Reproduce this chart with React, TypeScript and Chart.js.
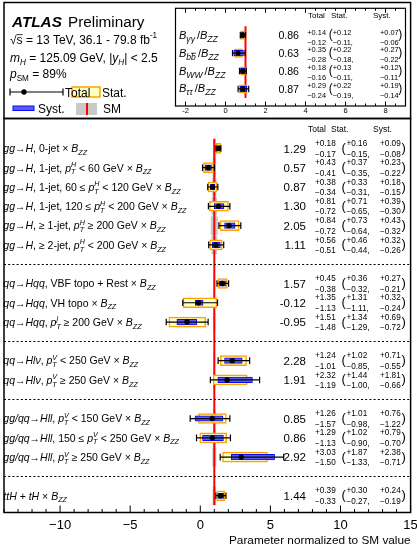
import React, { useEffect, useRef } from "react";
import { Chart, registerables } from "chart.js";
Chart.register(...registerables);

const FONT = '"Liberation Sans", Arimo, Arial, Helvetica, sans-serif';

// ---------------- main panel data ----------------
const groupSizes = [6, 3, 2, 3, 1];
const rowLabels = [
  "*gg*→*H*, 0-jet × *B_{ZZ}*",
  "*gg*→*H*, 1-jet, *p^{H}_{T}* < 60 GeV × *B_{ZZ}*",
  "*gg*→*H*, 1-jet, 60 ≤ *p^{H}_{T}* < 120 GeV × *B_{ZZ}*",
  "*gg*→*H*, 1-jet, 120 ≤ *p^{H}_{T}* < 200 GeV × *B_{ZZ}*",
  "*gg*→*H*, ≥ 1-jet, *p^{H}_{T}* ≥ 200 GeV × *B_{ZZ}*",
  "*gg*→*H*, ≥ 2-jet, *p^{H}_{T}* < 200 GeV × *B_{ZZ}*",
  "*qq*→*Hqq*, VBF topo + Rest × *B_{ZZ}*",
  "*qq*→*Hqq*, VH topo × *B_{ZZ}*",
  "*qq*→*Hqq*, *p^{j}_{T}* ≥ 200 GeV × *B_{ZZ}*",
  "*qq*→*Hlν*, *p^{V}_{T}* < 250 GeV × *B_{ZZ}*",
  "*qq*→*Hlν*, *p^{V}_{T}* ≥ 250 GeV × *B_{ZZ}*",
  "*gg/qq*→*Hll*, *p^{V}_{T}* < 150 GeV × *B_{ZZ}*",
  "*gg/qq*→*Hll*, 150 ≤ *p^{V}_{T}* < 250 GeV × *B_{ZZ}*",
  "*gg/qq*→*Hll*, *p^{V}_{T}* ≥ 250 GeV × *B_{ZZ}*",
  "*ttH* + *tH* × *B_{ZZ}*",
];
const central = [1.29, 0.57, 0.87, 1.3, 2.05, 1.11, 1.57, -0.12, -0.95, 2.28, 1.91, 0.85, 0.86, 2.92, 1.44];
const totUp = [0.18, 0.43, 0.38, 0.81, 0.84, 0.56, 0.45, 1.35, 1.51, 1.24, 2.32, 1.26, 1.29, 3.03, 0.39];
const totDn = [0.17, 0.41, 0.34, 0.72, 0.72, 0.51, 0.38, 1.13, 1.48, 1.01, 1.19, 1.57, 1.13, 1.5, 0.33];
const statUp = [0.16, 0.37, 0.33, 0.71, 0.73, 0.46, 0.36, 1.31, 1.34, 1.02, 1.44, 1.01, 1.02, 1.87, 0.3];
const statDn = [0.15, 0.35, 0.31, 0.65, 0.64, 0.44, 0.32, 1.11, 1.29, 0.85, 1.0, 0.98, 0.9, 1.33, 0.27];
const systUp = [0.09, 0.23, 0.18, 0.39, 0.43, 0.32, 0.27, 0.32, 0.69, 0.71, 1.81, 0.76, 0.79, 2.38, 0.24];
const systDn = [0.08, 0.22, 0.15, 0.3, 0.32, 0.26, 0.21, 0.24, 0.72, 0.55, 0.66, 1.22, 0.7, 0.71, 0.19];
const smUnc = [0.07, 0.1, 0.13, 0.17, 0.23, 0.18, 0.03, 0.03, 0.05, 0.04, 0.04, 0.06, 0.08, 0.12, 0.1];

// ---------------- inset (ratios) data ----------------
const ratioLabels = ["*B_{γγ}*/*B_{ZZ}*", "*B_{b={b}}*/*B_{ZZ}*", "*B_{WW}*/*B_{ZZ}*", "*B_{ττ}*/*B_{ZZ}*"];
const ratioCentral = [0.86, 0.63, 0.86, 0.87];
const ratioTotUp = [0.14, 0.35, 0.18, 0.29];
const ratioTotDn = [0.12, 0.28, 0.16, 0.24];
const ratioStatUp = [0.12, 0.22, 0.13, 0.22];
const ratioStatDn = [0.11, 0.18, 0.11, 0.19];
const ratioSystUp = [0.07, 0.27, 0.12, 0.19];
const ratioSystDn = [0.06, 0.22, 0.11, 0.14];

const mainTicks = [-10, -5, 0, 5, 10, 15];
const insetTicks = [-2, 0, 2, 4, 6, 8];
const columnHeaders = ["Total", "Stat.", "Syst."];
const xTitle = "Parameter normalized to SM value";
const SM_VALUE = 1;

const C_STAT_FILL = "#ffffc4";
const C_STAT_LINE = "#ffa200";
const C_SYST_FILL = "#5a5af2";
const C_SYST_LINE = "#0a0aff";
const C_SM_BAND = "#c9c9c9";
const C_SM_LINE = "#ff0000";

// ---------------- rich text helpers ----------------
type Run = { kind: "run"; text: string; it: boolean; lvl: number; over: boolean };
type Stk = { kind: "stack"; sup: Item[]; sub: Item[] };
type Item = Run | Stk;
type Style = { sub: number; gap: number };

function findClose(s: string, open: number): number {
  let depth = 0;
  for (let k = open; k < s.length; k++) {
    if (s[k] === "{") depth++;
    else if (s[k] === "}") {
      depth--;
      if (depth === 0) return k;
    }
  }
  return s.length;
}

function parseRich(s: string, it = false, lvl = 0, over = false): Item[] {
  const items: Item[] = [];
  let buf = "";
  const flush = () => {
    if (buf) items.push({ kind: "run", text: buf, it, lvl, over });
    buf = "";
  };
  let i = 0;
  while (i < s.length) {
    const c = s[i];
    if (c === "*") {
      flush();
      it = !it;
      i++;
      continue;
    }
    if ((c === "_" || c === "^") && s[i + 1] === "{") {
      flush();
      const close = findClose(s, i + 1);
      const first = parseRich(s.slice(i + 2, close), it, lvl + 1, over);
      let next = close + 1;
      let second: Item[] = [];
      const other = c === "_" ? "^" : "_";
      if (s[next] === other && s[next + 1] === "{") {
        const close2 = findClose(s, next + 1);
        second = parseRich(s.slice(next + 2, close2), it, lvl + 1, over);
        next = close2 + 1;
      }
      items.push({ kind: "stack", sup: c === "^" ? first : second, sub: c === "_" ? first : second });
      i = next;
      continue;
    }
    if (c === "=" && s[i + 1] === "{") {
      flush();
      const close = findClose(s, i + 1);
      items.push(...parseRich(s.slice(i + 2, close), it, lvl, true));
      i = close + 1;
      continue;
    }
    buf += c;
    i++;
  }
  flush();
  return items;
}

const DEFAULT_STYLE: Style = { sub: 0.68, gap: 0 };
function sizeAt(base: number, lvl: number, st: Style) {
  return base * Math.pow(st.sub, lvl);
}
function fontFor(size: number, it: boolean) {
  return `${it ? "italic " : ""}${size}px ${FONT}`;
}
function measureItems(ctx: CanvasRenderingContext2D, items: Item[], base: number, st: Style): number {
  let w = 0;
  for (const item of items) {
    if (item.kind === "run") {
      ctx.font = fontFor(sizeAt(base, item.lvl, st), item.it);
      w += ctx.measureText(item.text).width;
    } else {
      w += Math.max(measureItems(ctx, item.sup, base, st), measureItems(ctx, item.sub, base, st)) + st.gap;
    }
  }
  return w;
}
function drawItems(ctx: CanvasRenderingContext2D, items: Item[], x: number, y: number, base: number, lvl: number, st: Style): number {
  for (const item of items) {
    if (item.kind === "run") {
      const sz = sizeAt(base, item.lvl, st);
      ctx.font = fontFor(sz, item.it);
      ctx.fillText(item.text, x, y);
      const w = ctx.measureText(item.text).width;
      if (item.over) {
        ctx.save();
        ctx.lineWidth = 0.8;
        ctx.strokeStyle = "#000";
        ctx.beginPath();
        ctx.moveTo(x, y - sz * 0.74);
        ctx.lineTo(x + w, y - sz * 0.74);
        ctx.stroke();
        ctx.restore();
      }
      x += w;
    } else {
      const sz = sizeAt(base, lvl, st);
      const eSup = drawItems(ctx, item.sup, x, y - sz * 0.42, base, lvl + 1, st);
      const eSub = drawItems(ctx, item.sub, x, y + sz * 0.27, base, lvl + 1, st);
      x = Math.max(eSup, eSub) + st.gap;
    }
  }
  return x;
}
function drawRich(ctx: CanvasRenderingContext2D, markup: string, x: number, y: number, base: number, align = "left", st: Style = DEFAULT_STYLE) {
  const items = parseRich(markup);
  const w = measureItems(ctx, items, base, st);
  const x0 = align === "left" ? x : align === "right" ? x - w : x - w / 2;
  ctx.textAlign = "left";
  ctx.textBaseline = "alphabetic";
  ctx.fillStyle = "#000";
  drawItems(ctx, items, x0, y, base, 0, st);
}

function fmtVal(v: number) {
  return v.toFixed(2);
}
function fmtMinusTick(v: number) {
  return v < 0 ? "\u2212" + Math.abs(v) : String(v);
}

type Cols = {
  valRight: number; valSize: number; tot: number; stat: number; syst: number;
  parL: number; parR: number; parSize: number; errSize: number; upDy: number; dnDy: number;
};

function drawNumbers(ctx: CanvasRenderingContext2D, y: number, c: number, tu: number, td: number, su: number, sd: number, yu: number, yd: number, L: Cols) {
  ctx.fillStyle = "#000";
  ctx.textBaseline = "alphabetic";
  ctx.font = `${L.valSize}px ${FONT}`;
  ctx.textAlign = "right";
  ctx.fillText(fmtVal(c), L.valRight, y + 0.36 * L.valSize);
  ctx.textAlign = "left";
  ctx.font = `${L.errSize}px ${FONT}`;
  const yTop = y + L.upDy + 0.36 * L.errSize;
  const yBot = y + L.dnDy + 0.36 * L.errSize;
  ctx.fillText("+" + tu.toFixed(2), L.tot, yTop);
  ctx.fillText("\u2212" + td.toFixed(2), L.tot, yBot);
  ctx.fillText("+" + su.toFixed(2), L.stat, yTop);
  ctx.fillText("\u2212" + sd.toFixed(2) + ",", L.stat, yBot);
  ctx.fillText("+" + yu.toFixed(2), L.syst, yTop);
  ctx.fillText("\u2212" + yd.toFixed(2), L.syst, yBot);
  ctx.font = `${L.parSize}px ${FONT}`;
  ctx.fillText("(", L.parL, y + 0.27 * L.parSize);
  ctx.fillText(")", L.parR, y + 0.27 * L.parSize);
}

function drawTotals(chart: any, cs: number[], up: number[], dn: number[], slots: number[], cap: number) {
  const ctx: CanvasRenderingContext2D = chart.ctx;
  const xs = chart.scales.x;
  const ys = chart.scales.y;
  ctx.save();
  ctx.strokeStyle = "#000";
  ctx.lineWidth = 1.2;
  cs.forEach((c, i) => {
    const y = ys.getPixelForValue(slots[i]);
    const x1 = xs.getPixelForValue(c - dn[i]);
    const x2 = xs.getPixelForValue(c + up[i]);
    ctx.beginPath();
    ctx.moveTo(x1, y);
    ctx.lineTo(x2, y);
    ctx.moveTo(x1, y - cap);
    ctx.lineTo(x1, y + cap);
    ctx.moveTo(x2, y - cap);
    ctx.lineTo(x2, y + cap);
    ctx.stroke();
  });
  ctx.restore();
}

function buildSlots() {
  const slots: number[] = [];
  const seps: number[] = [];
  let s = 1;
  groupSizes.forEach((n, g) => {
    for (let k = 0; k < n; k++) slots.push(s++);
    if (g < groupSizes.length - 1) seps.push(s++);
  });
  return { slots, seps };
}

const MAIN_COLS: Cols = {
  valRight: 306, valSize: 11.5, tot: 315, stat: 346.5, syst: 380,
  parL: 341.5, parR: 401.5, parSize: 13, errSize: 8.2, upDy: -5.3, dnDy: 5.2,
};
const INSET_COLS: Cols = {
  valRight: 299, valSize: 10.6, tot: 307.3, stat: 332.7, syst: 380,
  parL: 328.7, parR: 398.3, parSize: 12, errSize: 7.4, upDy: -3.3, dnDy: 6.7,
};
const INSET_LABEL_STYLE: Style = { sub: 0.78, gap: 2 };

function mainConfig(): any {
  const { slots, seps } = buildSlots();
  const lastSlot = slots[slots.length - 1];
  const plugin = {
    id: "mainDecor",
    afterDatasetDraw(chart: any, args: any) {
      if (args.index !== 1) return;
      drawTotals(chart, central, totUp, totDn, slots, 3.3);
    },
    afterDraw(chart: any) {
      const ctx: CanvasRenderingContext2D = chart.ctx;
      const { left, right, top, bottom } = chart.chartArea;
      const xs = chart.scales.x;
      const ys = chart.scales.y;
      ctx.save();
      // separators
      ctx.strokeStyle = "#000";
      ctx.lineWidth = 1;
      ctx.setLineDash([2, 2.2]);
      seps.forEach((s) => {
        const y = Math.round(ys.getPixelForValue(s)) + 0.5;
        ctx.beginPath();
        ctx.moveTo(left, y);
        ctx.lineTo(right, y);
        ctx.stroke();
      });
      ctx.setLineDash([]);
      // frames
      ctx.lineWidth = 1.5;
      ctx.strokeRect(left, top, right - left, bottom - top);
      ctx.strokeRect(left, 2.5, right - left, top - 2.5);
      // ticks
      ctx.lineWidth = 1;
      for (let v = Math.ceil(xs.min); v <= xs.max; v++) {
        const x = xs.getPixelForValue(v);
        const len = v % 5 === 0 ? 7 : 3.5;
        ctx.beginPath();
        ctx.moveTo(x, bottom);
        ctx.lineTo(x, bottom - len);
        ctx.stroke();
      }
      // tick labels
      ctx.fillStyle = "#000";
      ctx.font = `13px ${FONT}`;
      ctx.textAlign = "center";
      ctx.textBaseline = "alphabetic";
      mainTicks.forEach((v) => ctx.fillText(fmtMinusTick(v), xs.getPixelForValue(v), bottom + 16.2));
      ctx.font = `11.8px ${FONT}`;
      ctx.textAlign = "right";
      ctx.fillText(xTitle, right, 544);
      // column headers
      ctx.textAlign = "left";
      ctx.font = `8.5px ${FONT}`;
      const hy = ys.getPixelForValue(0) + 3;
      ctx.fillText(columnHeaders[0], 308, hy);
      ctx.fillText(columnHeaders[1], 331, hy);
      ctx.fillText(columnHeaders[2], 373, hy);
      // rows
      rowLabels.forEach((lab, i) => {
        const y = ys.getPixelForValue(slots[i]);
        drawRich(ctx, lab, 3.3, y + 3.8, 10.5, "left");
        drawNumbers(ctx, y, central[i], totUp[i], totDn[i], statUp[i], statDn[i], systUp[i], systDn[i], MAIN_COLS);
      });
      // header text
      ctx.fillStyle = "#000";
      ctx.textAlign = "left";
      ctx.font = `italic bold 15.3px ${FONT}`;
      ctx.fillText("ATLAS", 12, 27);
      ctx.font = `15.3px ${FONT}`;
      ctx.fillText("Preliminary", 68, 27);
      drawRich(ctx, "√={s} = 13 TeV, 36.1 - 79.8 fb^{-1}", 10, 43.5, 12);
      drawRich(ctx, "*m_{H}* = 125.09 GeV, |*y_{H}*| < 2.5", 10, 62, 12);
      drawRich(ctx, "*p*_{SM} = 89%", 10, 78, 12);
      // legend
      ctx.strokeStyle = "#000";
      ctx.lineWidth = 1.2;
      ctx.beginPath();
      ctx.moveTo(10, 92);
      ctx.lineTo(63, 92);
      ctx.moveTo(10, 88.5);
      ctx.lineTo(10, 95.5);
      ctx.moveTo(63, 88.5);
      ctx.lineTo(63, 95.5);
      ctx.stroke();
      ctx.beginPath();
      ctx.arc(24, 92, 2.7, 0, Math.PI * 2);
      ctx.fill();
      ctx.fillStyle = C_STAT_FILL;
      ctx.fillRect(72, 87, 28, 10);
      ctx.strokeStyle = C_STAT_LINE;
      ctx.lineWidth = 1.5;
      ctx.strokeRect(72, 87, 28, 10);
      ctx.fillStyle = C_SYST_FILL;
      ctx.fillRect(13, 106, 21, 4.5);
      ctx.strokeStyle = C_SYST_LINE;
      ctx.lineWidth = 1;
      ctx.strokeRect(13, 106, 21, 4.5);
      ctx.fillStyle = C_SM_BAND;
      ctx.fillRect(76, 103, 21, 12);
      ctx.strokeStyle = C_SM_LINE;
      ctx.lineWidth = 2;
      ctx.beginPath();
      ctx.moveTo(87, 103);
      ctx.lineTo(87, 115);
      ctx.stroke();
      ctx.fillStyle = "#000";
      ctx.font = `12px ${FONT}`;
      ctx.fillText("Total", 65, 96.5);
      ctx.fillText("Stat.", 102, 96.5);
      ctx.fillText("Syst.", 38, 113.3);
      ctx.fillText("SM", 103, 113.3);
      ctx.restore();
    },
  };
  return {
    type: "bar",
    data: {
      datasets: [
        {
          type: "scatter",
          label: "Total",
          data: central.map((c, i) => ({ x: c, y: slots[i] })),
          pointRadius: 2.7,
          pointBackgroundColor: "#000",
          pointBorderWidth: 0,
          order: 0,
        },
        {
          type: "bar",
          label: "Syst.",
          data: central.map((c, i) => ({ x: [c - systDn[i], c + systUp[i]], y: slots[i] })),
          backgroundColor: C_SYST_FILL,
          borderColor: C_SYST_LINE,
          borderWidth: 1,
          borderSkipped: false,
          barThickness: 5.5,
          grouped: false,
          order: 1,
        },
        {
          type: "bar",
          label: "Stat.",
          data: central.map((c, i) => ({ x: [c - statDn[i], c + statUp[i]], y: slots[i] })),
          backgroundColor: C_STAT_FILL,
          borderColor: C_STAT_LINE,
          borderWidth: 1.5,
          borderSkipped: false,
          barThickness: 10,
          grouped: false,
          order: 2,
        },
        {
          type: "line",
          label: "SM",
          data: [
            { x: SM_VALUE, y: 0.5 },
            { x: SM_VALUE, y: lastSlot + 0.5 },
          ],
          borderColor: C_SM_LINE,
          borderWidth: 2,
          pointRadius: 0,
          fill: false,
          order: 3,
        },
        {
          type: "bar",
          label: "SM unc.",
          data: smUnc.map((u, i) => ({ x: [SM_VALUE - u, SM_VALUE + u], y: slots[i] })),
          backgroundColor: C_SM_BAND,
          borderWidth: 0,
          barThickness: 18,
          grouped: false,
          order: 4,
        },
      ],
    },
    options: {
      indexAxis: "y",
      responsive: false,
      animation: false,
      events: [],
      layout: { padding: { left: 2.5, right: 6.4, top: 118.5, bottom: 33.5 } },
      scales: {
        x: { type: "linear", min: -14, max: 15, display: false, offset: false },
        y: { type: "linear", min: -0.55, max: 19.87, reverse: true, display: false, offset: false },
      },
      plugins: { legend: { display: false }, tooltip: { enabled: false } },
    },
    plugins: [plugin],
  };
}

function insetConfig(): any {
  const slots = ratioCentral.map((_, i) => i + 1);
  const plugin = {
    id: "insetDecor",
    afterDatasetDraw(chart: any, args: any) {
      if (args.index !== 1) return;
      drawTotals(chart, ratioCentral, ratioTotUp, ratioTotDn, slots, 3.2);
    },
    afterDraw(chart: any) {
      const ctx: CanvasRenderingContext2D = chart.ctx;
      const { left, right, top, bottom } = chart.chartArea;
      const xs = chart.scales.x;
      const ys = chart.scales.y;
      ctx.save();
      ctx.strokeStyle = "#000";
      ctx.lineWidth = 1.2;
      ctx.strokeRect(left, top, right - left, bottom - top);
      ctx.lineWidth = 1;
      for (let k = Math.ceil(xs.min * 2); k <= xs.max * 2; k++) {
        const v = k / 2;
        const x = xs.getPixelForValue(v);
        const len = k % 4 === 0 ? 4.5 : 2.5;
        ctx.beginPath();
        ctx.moveTo(x, bottom);
        ctx.lineTo(x, bottom - len);
        ctx.moveTo(x, top);
        ctx.lineTo(x, top + len);
        ctx.stroke();
      }
      ctx.fillStyle = "#000";
      ctx.font = `7.5px ${FONT}`;
      ctx.textAlign = "center";
      ctx.textBaseline = "alphabetic";
      insetTicks.forEach((v) => ctx.fillText(fmtMinusTick(v).replace("\u2212", "-"), xs.getPixelForValue(v), bottom + 7));
      // headers (canvas offset 170)
      const off = 170;
      ctx.textAlign = "left";
      ctx.font = `8px ${FONT}`;
      ctx.fillText(columnHeaders[0], 308 - off, 18.3);
      ctx.fillText(columnHeaders[1], 331 - off, 18.3);
      ctx.fillText(columnHeaders[2], 373 - off, 18.3);
      const L: Cols = {
        ...INSET_COLS,
        valRight: INSET_COLS.valRight - off,
        tot: INSET_COLS.tot - off,
        stat: INSET_COLS.stat - off,
        syst: INSET_COLS.syst - off,
        parL: INSET_COLS.parL - off,
        parR: INSET_COLS.parR - off,
      };
      ratioLabels.forEach((lab, i) => {
        const y = ys.getPixelForValue(slots[i]);
        drawRich(ctx, lab, 179 - off, y + 3.5, 11, "left", INSET_LABEL_STYLE);
        drawNumbers(ctx, y, ratioCentral[i], ratioTotUp[i], ratioTotDn[i], ratioStatUp[i], ratioStatDn[i], ratioSystUp[i], ratioSystDn[i], L);
      });
      ctx.restore();
    },
  };
  return {
    type: "bar",
    data: {
      datasets: [
        {
          type: "scatter",
          data: ratioCentral.map((c, i) => ({ x: c, y: slots[i] })),
          pointRadius: 2.6,
          pointBackgroundColor: "#000",
          pointBorderWidth: 0,
          order: 0,
        },
        {
          type: "bar",
          data: ratioCentral.map((c, i) => ({ x: [c - ratioSystDn[i], c + ratioSystUp[i]], y: slots[i] })),
          backgroundColor: C_SYST_FILL,
          borderColor: C_SYST_LINE,
          borderWidth: 1,
          borderSkipped: false,
          barThickness: 5.5,
          grouped: false,
          order: 1,
        },
        {
          type: "bar",
          data: ratioCentral.map((c, i) => ({ x: [c - ratioStatDn[i], c + ratioStatUp[i]], y: slots[i] })),
          backgroundColor: C_STAT_FILL,
          borderColor: C_STAT_LINE,
          borderWidth: 1.5,
          borderSkipped: false,
          barThickness: 8.5,
          grouped: false,
          order: 2,
        },
        {
          type: "line",
          data: [
            { x: SM_VALUE, y: 0.5 },
            { x: SM_VALUE, y: slots.length + 0.5 },
          ],
          borderColor: C_SM_LINE,
          borderWidth: 2,
          pointRadius: 0,
          fill: false,
          order: 3,
        },
      ],
    },
    options: {
      indexAxis: "y",
      responsive: false,
      animation: false,
      events: [],
      layout: { padding: { left: 5.5, right: 5.5, top: 8.3, bottom: 12 } },
      scales: {
        x: { type: "linear", min: -2.5, max: 9, display: false, offset: false },
        y: { type: "linear", min: -0.5, max: 4.95, reverse: true, display: false, offset: false },
      },
      plugins: { legend: { display: false }, tooltip: { enabled: false } },
    },
    plugins: [plugin],
  };
}

export default function App() {
  const mainRef = useRef<HTMLCanvasElement>(null);
  const insetRef = useRef<HTMLCanvasElement>(null);
  useEffect(() => {
    const main = new Chart(mainRef.current as HTMLCanvasElement, mainConfig());
    const inset = new Chart(insetRef.current as HTMLCanvasElement, insetConfig());
    return () => {
      main.destroy();
      inset.destroy();
    };
  }, []);
  return (
    <div style={{ position: "absolute", left: 0, top: 0, width: 417, height: 546, background: "#fff" }}>
      <canvas ref={mainRef} width={417} height={546} style={{ position: "absolute", left: 0, top: 0, width: 417, height: 546 }} />
      <canvas ref={insetRef} width={241} height={118} style={{ position: "absolute", left: 170, top: 0, width: 241, height: 118 }} />
    </div>
  );
}
